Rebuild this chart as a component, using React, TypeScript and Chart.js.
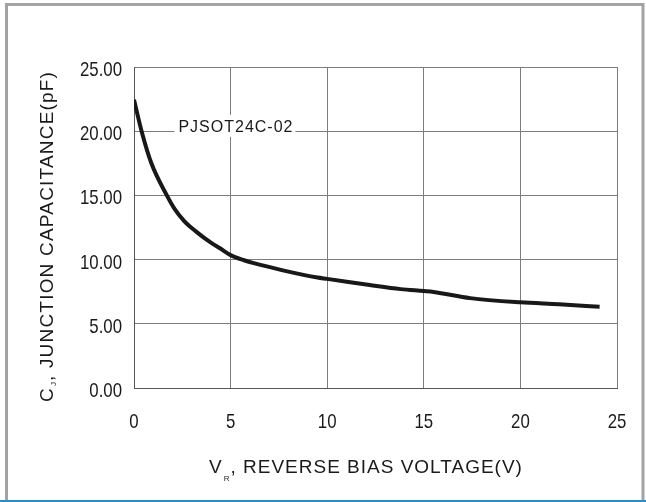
import React, { useEffect, useRef } from "react";
import { Chart, registerables } from "chart.js";

Chart.register(...registerables);

// Reverse bias voltage (V)
const voltage = [0, 0.4, 0.9, 1.7, 2.1, 2.6, 3.2, 4.0, 4.45, 5.0, 5.7, 6.2, 7.6, 9.5, 10, 12.2, 13.8, 15, 15.5, 17.4, 20, 22, 24.1];
// Junction capacitance (pF)
const capacitance = [22.45, 19.96, 17.5, 15.0, 13.95, 13.0, 12.2, 11.3, 10.88, 10.35, 9.95, 9.72, 9.2, 8.6, 8.5, 8.02, 7.7, 7.55, 7.48, 7.0, 6.67, 6.52, 6.33];

const xTicks = [0, 5, 10, 15, 20, 25];
const yTicks = [0, 5, 10, 15, 20, 25];

const seriesLabel = "PJSOT24C-02";
const labelAnchor = { x: 2.3, y: 19.95 };

const xTitleMain = "V";
const xTitleSub = "R";
const xTitleRest = ", REVERSE BIAS VOLTAGE(V)";
const yTitleMain = "C";
const yTitleSub = "J";
const yTitleRest = ", JUNCTION CAPACITANCE(pF)";

const SANS = '"Liberation Sans", Arial, sans-serif';
const NARROW_SCALE = 0.8;

const fmtX = (v: number) => String(v);
const fmtY = (v: number) => v.toFixed(2);

const decorPlugin = {
  id: "decor",
  beforeDraw(chart: any) {
    const ctx = chart.ctx;
    ctx.save();
    ctx.fillStyle = "#ffffff";
    ctx.fillRect(0, 0, chart.width, chart.height);
    ctx.restore();
  },
  afterDraw(chart: any) {
    const ctx = chart.ctx;
    const xs = chart.scales.x;
    const ys = chart.scales.y;
    const area = chart.chartArea;
    ctx.save();
    // outer frame
    ctx.strokeStyle = "#a3a3a3";
    ctx.lineWidth = 3;
    ctx.beginPath();
    ctx.moveTo(6.5, 503);
    ctx.lineTo(6.5, 4.5);
    ctx.lineTo(643, 4.5);
    ctx.lineTo(643, 503);
    ctx.stroke();
    ctx.strokeStyle = "#2b8fc6";
    ctx.lineWidth = 2;
    ctx.beginPath();
    ctx.moveTo(0, 501);
    ctx.lineTo(646, 501);
    ctx.stroke();

    // tick labels (narrow face)
    ctx.fillStyle = "#1a1a1a";
    ctx.font = "21px " + SANS;
    ctx.textBaseline = "alphabetic";
    for (const t of ys.ticks) {
      const py = ys.getPixelForValue(t.value);
      const txt = fmtY(t.value);
      ctx.save();
      ctx.translate(area.left - 12, py + 9);
      ctx.scale(NARROW_SCALE, 1);
      ctx.textAlign = "right";
      ctx.fillText(txt, 0, 0);
      ctx.restore();
    }
    for (const t of xs.ticks) {
      const px = xs.getPixelForValue(t.value);
      const txt = fmtX(t.value);
      ctx.save();
      ctx.translate(px, area.bottom + 40);
      ctx.scale(NARROW_SCALE, 1);
      ctx.textAlign = "center";
      ctx.fillText(txt, 0, 0);
      ctx.restore();
    }

    // series label with white background
    const lx = xs.getPixelForValue(labelAnchor.x);
    const ly = ys.getPixelForValue(labelAnchor.y);
    ctx.font = "16px " + SANS;
    (ctx as any).letterSpacing = "1px";
    ctx.textAlign = "left";
    const w = ctx.measureText(seriesLabel).width;
    ctx.fillStyle = "#ffffff";
    ctx.fillRect(lx - 4, ly - 17, w + 6, 22);
    ctx.fillStyle = "#1a1a1a";
    ctx.fillText(seriesLabel, lx, ly);

    // x title
    ctx.font = "19px " + SANS;
    (ctx as any).letterSpacing = "1px";
    let x = 209;
    const by = 473;
    ctx.fillText(xTitleMain, x, by);
    x += ctx.measureText(xTitleMain).width;
    ctx.font = "8px " + SANS;
    (ctx as any).letterSpacing = "0px";
    ctx.fillText(xTitleSub, x + 1, by + 8);
    x += ctx.measureText(xTitleSub).width + 2;
    ctx.font = "19px " + SANS;
    (ctx as any).letterSpacing = "1px";
    ctx.fillText(xTitleRest, x, by);

    // y title (rotated)
    ctx.translate(53, 402);
    ctx.rotate(-Math.PI / 2);
    let t = 0;
    ctx.font = "19px " + SANS;
    (ctx as any).letterSpacing = "1.2px";
    ctx.fillText(yTitleMain, t, 0);
    t += ctx.measureText(yTitleMain).width;
    ctx.font = "8px " + SANS;
    (ctx as any).letterSpacing = "0px";
    ctx.fillText(yTitleSub, t + 1, 3);
    t += ctx.measureText(yTitleSub).width + 2;
    ctx.font = "19px " + SANS;
    (ctx as any).letterSpacing = "1.2px";
    ctx.fillText(yTitleRest, t, 0);
    ctx.restore();
  },
};

export default function App() {
  const ref = useRef<HTMLCanvasElement | null>(null);
  useEffect(() => {
    document.body.style.margin = "0";
    const canvas = ref.current;
    if (!canvas) return;
    const chart = new Chart(canvas, {
      type: "line",
      data: {
        datasets: [
          {
            label: seriesLabel,
            data: voltage.map((v, i) => ({ x: v, y: capacitance[i] })),
            borderColor: "#1a1718",
            borderWidth: 4,
            borderCapStyle: "butt",
            pointRadius: 0,
            fill: false,
            cubicInterpolationMode: "monotone",
          },
        ],
      },
      options: {
        animation: false,
        responsive: false,
        devicePixelRatio: 1,
        layout: { padding: { left: 0, top: 67, right: 29, bottom: 0 } },
        plugins: { legend: { display: false }, tooltip: { enabled: false } },
        scales: {
          x: {
            type: "linear",
            min: 0,
            max: 25,
            afterBuildTicks: (s: any) => {
              s.ticks = xTicks.map((v) => ({ value: v }));
            },
            afterFit: (s: any) => {
              s.height = 114;
            },
            grid: { color: "#7d7d7d", lineWidth: 1, drawTicks: false },
            border: { color: "#555555", width: 1 },
            ticks: { display: false },
          },
          y: {
            type: "linear",
            min: 0,
            max: 25,
            afterBuildTicks: (s: any) => {
              s.ticks = yTicks.map((v) => ({ value: v }));
            },
            afterFit: (s: any) => {
              s.width = 134;
            },
            grid: { color: "#7d7d7d", lineWidth: 1, drawTicks: false },
            border: { color: "#555555", width: 1 },
            ticks: { display: false },
          },
        },
      },
      plugins: [decorPlugin],
    } as any);
    return () => chart.destroy();
  }, []);
  return (
    <div style={{ width: 646, height: 502 }}>
      <canvas ref={ref} width={646} height={502} style={{ display: "block" }} />
    </div>
  );
}
